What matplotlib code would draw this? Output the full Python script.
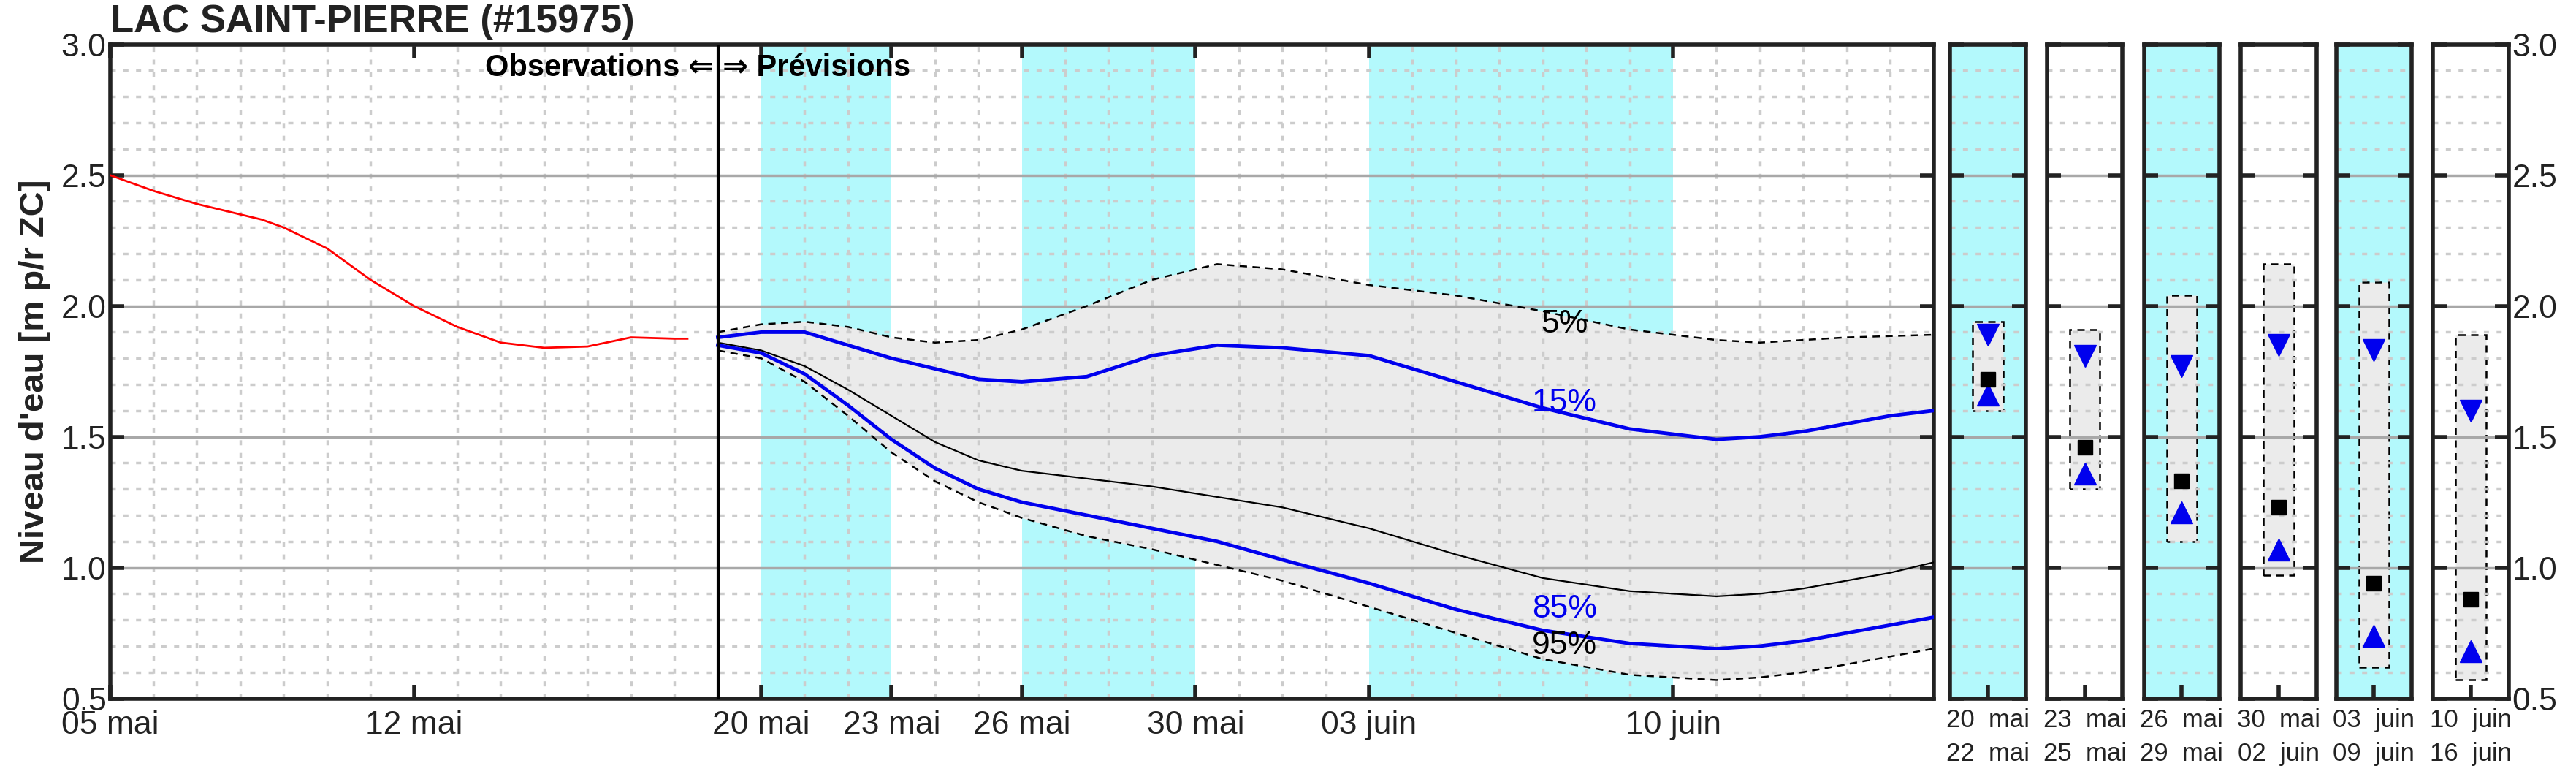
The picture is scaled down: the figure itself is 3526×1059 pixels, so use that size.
import matplotlib
matplotlib.use("Agg")
import matplotlib.pyplot as plt
import numpy as np
import datetime as dt

plt.rcParams['font.family'] = ['Liberation Sans', 'DejaVu Sans']

title = "LAC SAINT-PIERRE (#15975)"
ylabel = "Niveau d'eau [m p/r ZC]"

start = dt.datetime(2024, 5, 5)
obs_days = [0, 1, 2, 3, 3.5, 4, 5, 6, 7, 8, 9, 10, 11, 12, 13, 13.3]
obs_vals = [2.50, 2.44, 2.39, 2.35, 2.33, 2.30, 2.22, 2.10, 2.00, 1.92, 1.86, 1.84, 1.845, 1.88, 1.875, 1.875]

fc_days = [14, 15, 16, 17, 18, 19, 20, 21, 22.5, 24, 25.5, 27, 29, 31, 33, 35, 37, 38, 39, 40, 41, 42]
p05 = [1.90, 1.93, 1.94, 1.92, 1.88, 1.86, 1.87, 1.91, 2.00, 2.10, 2.16, 2.14, 2.08, 2.04, 1.98, 1.91, 1.87, 1.86, 1.87, 1.88, 1.885, 1.89]
p15 = [1.88, 1.90, 1.90, 1.85, 1.80, 1.76, 1.72, 1.71, 1.73, 1.81, 1.85, 1.84, 1.81, 1.71, 1.61, 1.53, 1.49, 1.50, 1.52, 1.55, 1.58, 1.60]
p50 = [1.86, 1.83, 1.77, 1.68, 1.58, 1.48, 1.41, 1.37, 1.34, 1.31, 1.27, 1.23, 1.15, 1.05, 0.96, 0.91, 0.89, 0.90, 0.92, 0.95, 0.98, 1.02]
p85 = [1.85, 1.82, 1.74, 1.62, 1.49, 1.38, 1.30, 1.25, 1.20, 1.15, 1.10, 1.03, 0.94, 0.84, 0.76, 0.71, 0.69, 0.70, 0.72, 0.75, 0.78, 0.81]
p95 = [1.83, 1.80, 1.71, 1.58, 1.44, 1.33, 1.25, 1.19, 1.12, 1.07, 1.01, 0.95, 0.85, 0.75, 0.65, 0.59, 0.57, 0.58, 0.60, 0.63, 0.66, 0.69]

cyan_bands = [(15, 18), (21, 25), (29, 36)]
xtick_days = [0, 7, 15, 18, 21, 25, 29, 36]
xtick_labels = ["05 mai", "12 mai", "20 mai", "23 mai", "26 mai", "30 mai", "03 juin", "10 juin"]

panel_labels = ["20  mai\n22  mai", "23  mai\n25  mai", "26  mai\n29  mai",
                "30  mai\n02  juin", "03  juin\n09  juin", "10  juin\n16  juin"]
panel_cyan = [True, False, True, False, True, False]
pan_p05 = [1.94, 1.91, 2.04, 2.16, 2.09, 1.89]
pan_p95 = [1.60, 1.30, 1.10, 0.97, 0.62, 0.57]
pan_p15 = [1.89, 1.81, 1.77, 1.85, 1.83, 1.60]
pan_p50 = [1.72, 1.46, 1.33, 1.23, 0.94, 0.88]
pan_p85 = [1.66, 1.36, 1.21, 1.07, 0.74, 0.68]

CYAN = '#b3f9fc'
GREY = '#ebebeb'
TXT = '#222222'

fig = plt.figure(figsize=(35.26, 10.59), dpi=100)

def todate(d):
    return [start + dt.timedelta(days=x) for x in d]

def style_grid(ax):
    ax.set_ylim(0.5, 3.0)
    ax.set_yticks(np.arange(0.5, 3.01, 0.5))
    ax.set_yticks(np.arange(0.5, 3.01, 0.1), minor=True)
    ax.grid(which='minor', axis='y', color='#cccccc', linestyle=(0, (2, 3)), linewidth=2.5, zorder=0.5)
    ax.grid(which='major', axis='y', color='#a8a8a8', linestyle='-', linewidth=2.5, zorder=0.6)
    for s in ax.spines.values():
        s.set_linewidth(4)
        s.set_color(TXT)
    ax.tick_params(which='major', direction='in', length=14, width=4, color=TXT,
                   labelsize=32, labelcolor=TXT, top=True, right=True)
    ax.tick_params(which='minor', length=0)

ax = fig.add_axes([0.0427, 0.0977, 0.7079, 0.845])
ax.set_xlim(start, start + dt.timedelta(days=42))
style_grid(ax)
ax.set_xticks(todate(xtick_days))
ax.set_xticklabels(xtick_labels)
ax.set_xticks(todate(list(range(0, 43))), minor=True)
ax.grid(which='minor', axis='x', color='#cccccc', linestyle=(0, (2, 3)), linewidth=2.5, zorder=0.5)
ax.tick_params(axis='x', pad=12)
for a, b in cyan_bands:
    ax.axvspan(start + dt.timedelta(days=a), start + dt.timedelta(days=b), color=CYAN, zorder=0.2, lw=0)
fd = todate(fc_days)
ax.fill_between(fd, p05, p95, color=GREY, zorder=1, lw=0)
ax.plot(fd, p05, color='black', ls=(0, (4, 3)), lw=1.8, zorder=2)
ax.plot(fd, p95, color='black', ls=(0, (4, 3)), lw=1.8, zorder=2)
ax.plot(fd, p50, color='black', lw=1.6, zorder=3)
ax.plot(fd, p15, color='#0000ee', lw=3.5, zorder=3)
ax.plot(fd, p85, color='#0000ee', lw=3.5, zorder=3)
ax.plot(todate(obs_days), obs_vals, color='red', lw=2, zorder=3)
ax.axvline(start + dt.timedelta(days=14), color='black', lw=3, zorder=4)
lx = start + dt.timedelta(days=33.5)
ax.text(lx, 1.93, "5%", fontsize=32, ha='center', va='center', color='black', zorder=5)
ax.text(lx, 1.63, "15%", fontsize=32, ha='center', va='center', color='#0000ee', zorder=5)
ax.text(lx, 0.84, "85%", fontsize=32, ha='center', va='center', color='#0000ee', zorder=5)
ax.text(lx, 0.70, "95%", fontsize=32, ha='center', va='center', color='black', zorder=5)
ax.text(start + dt.timedelta(days=13.9), 2.91, "Observations ⇐", fontsize=30, fontweight='bold',
        ha='right', va='center', zorder=5)
ax.text(start + dt.timedelta(days=14.1), 2.91, "⇒ Prévisions", fontsize=30, fontweight='bold',
        ha='left', va='center', zorder=5)
ax.set_ylabel(ylabel, fontsize=34, fontweight='bold', color=TXT, labelpad=10)
fig.text(0.0427, 0.972, title, fontsize=38, fontweight='bold', color=TXT, ha='left', va='center')

lefts = [1187, 1246, 1305, 1364, 1422, 1481]
for i, L in enumerate(lefts):
    pa = fig.add_axes([L / 1568, 0.0977, 46 / 1568, 0.845])
    pa.set_xlim(0, 1)
    if panel_cyan[i]:
        pa.set_facecolor(CYAN)
    style_grid(pa)
    pa.set_xticks([0.5])
    pa.set_xticklabels([panel_labels[i]], fontsize=25, linespacing=1.5)
    pa.tick_params(axis='x', pad=10, top=False)
    pa.tick_params(axis='y', labelleft=False, labelright=(i == len(lefts) - 1))
    pa.bar([0.5], [pan_p05[i] - pan_p95[i]], bottom=[pan_p95[i]], width=0.4,
           color=GREY, edgecolor='black', linestyle=(0, (4, 3)), linewidth=1.8, zorder=1)
    pa.plot([0.5], [pan_p15[i]], marker='v', color='#0000ee', ms=22, ls='none', zorder=3)
    pa.plot([0.5], [pan_p85[i]], marker='^', color='#0000ee', ms=22, ls='none', zorder=3)
    pa.plot([0.5], [pan_p50[i]], marker='s', color='black', ms=15, ls='none', zorder=3)

fig.savefig("out.png", dpi=100)
